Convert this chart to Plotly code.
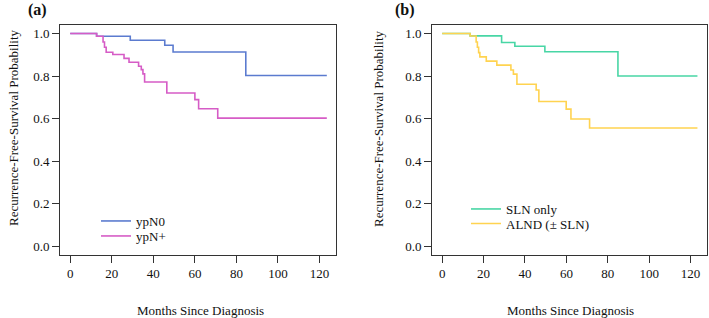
import plotly.graph_objects as go

# ---- data ----
ypN0_t = [0, 12.7, 28.9, 45.5, 49.5, 84.5, 123.5]
ypN0_s = [1.0, 0.987, 0.968, 0.945, 0.913, 0.802, 0.802]

ypNp_t = [0, 12.7, 15.8, 16.5, 17.3, 20.5, 25.9, 28.3, 32.9, 34.2, 35.0, 35.8, 46.5, 60.0, 61.8, 71.0, 123.5]
ypNp_s = [1.0, 0.987, 0.96, 0.935, 0.912, 0.901, 0.883, 0.865, 0.846, 0.83, 0.81, 0.772, 0.72, 0.689, 0.646, 0.602, 0.602]

sln_t = [0, 13.5, 28.7, 35.1, 49.6, 84.9, 123.3]
sln_s = [1.0, 0.989, 0.958, 0.94, 0.914, 0.8, 0.8]

alnd_t = [0, 13.5, 16.4, 17.0, 17.6, 18.2, 21.3, 26.4, 33.2, 34.4, 36.1, 45.4, 46.7, 59.9, 62.2, 71.2, 123.3]
alnd_s = [1.0, 0.988, 0.96, 0.935, 0.91, 0.89, 0.87, 0.851, 0.828, 0.809, 0.761, 0.734, 0.68, 0.644, 0.598, 0.555, 0.555]

x_ticks = [0, 20, 40, 60, 80, 100, 120]
y_ticks = [0.0, 0.2, 0.4, 0.6, 0.8, 1.0]
y_ticklabels = ["0.0", "0.2", "0.4", "0.6", "0.8", "1.0"]

x_title = "Months Since Diagnosis"
y_title = "Recurrence-Free-Survival Probability"

W, H = 709, 318
FONT = "Liberation Serif, Times New Roman, serif"
C_BLUE, C_PINK, C_GREEN, C_YELLOW = "#5B7BCF", "#D65CC6", "#48D6A5", "#FFD350"

fig = go.Figure()

def add(t, s, name, color, xa, ya, leg):
    fig.add_trace(go.Scatter(x=t, y=s, mode="lines", line=dict(shape="hv", color=color, width=1.6),
                             name=name, xaxis=xa, yaxis=ya, legend=leg, showlegend=True))

add(ypN0_t, ypN0_s, "ypN0", C_BLUE, "x", "y", "legend")
add(ypNp_t, ypNp_s, "ypN+", C_PINK, "x", "y", "legend2")
add(sln_t, sln_s, "SLN only", C_GREEN, "x2", "y2", "legend3")
add(alnd_t, alnd_s, "ALND (± SLN)", C_YELLOW, "x2", "y2", "legend4")

ytop = 1 - 25 / H
ybot = 1 - 254.5 / H

axis_common = dict(showline=True, mirror=True, linecolor="#333", linewidth=1, ticks="outside",
                   ticklen=7, tickcolor="#333", showgrid=False, zeroline=False,
                   tickfont=dict(family=FONT, size=13, color="#111"))

def leg(px, top):
    return dict(x=px / W, y=1 - top / H, xanchor="left", yanchor="top", bgcolor="rgba(0,0,0,0)",
                font=dict(family=FONT, size=13, color="#111"), itemwidth=30, visible=True)

fig.update_layout(
    width=W, height=H, margin=dict(l=0, r=0, t=0, b=0),
    plot_bgcolor="white", paper_bgcolor="white", showlegend=True,
    font=dict(family=FONT, size=13, color="#111"),
    xaxis=dict(domain=[60 / W, 336 / W], range=[-4.92, 127.92], tickvals=x_ticks, anchor="y", **axis_common),
    yaxis=dict(domain=[ybot, ytop], range=[-0.04, 1.04], tickvals=y_ticks, ticktext=y_ticklabels,
               anchor="x", **axis_common),
    xaxis2=dict(domain=[432 / W, 707 / W], range=[-4.92, 127.92], tickvals=x_ticks, anchor="y2", **axis_common),
    yaxis2=dict(domain=[ybot, ytop], range=[-0.04, 1.04], tickvals=y_ticks, ticktext=y_ticklabels,
                anchor="x2", **axis_common),
    legend=leg(96, 206),
    legend2=leg(96, 221),
    legend3=leg(466, 194),
    legend4=leg(466, 208.5),
    annotations=[
        dict(text="<b>(a)</b>", x=37 / W, y=1 - 10 / H, xref="paper", yref="paper", showarrow=False,
             font=dict(family=FONT, size=16, color="#111"), xanchor="center", yanchor="middle"),
        dict(text="<b>(b)</b>", x=405 / W, y=1 - 10 / H, xref="paper", yref="paper", showarrow=False,
             font=dict(family=FONT, size=16, color="#111"), xanchor="center", yanchor="middle"),
        dict(text=y_title, x=13 / W, y=1 - 128 / H, xref="paper", yref="paper", showarrow=False,
             textangle=-90, xanchor="center", yanchor="middle"),
        dict(text=y_title, x=378 / W, y=1 - 128 / H, xref="paper", yref="paper", showarrow=False,
             textangle=-90, xanchor="center", yanchor="middle"),
        dict(text=x_title, x=200 / W, y=1 - 310 / H, xref="paper", yref="paper", showarrow=False,
             xanchor="center", yanchor="middle"),
        dict(text=x_title, x=570 / W, y=1 - 310 / H, xref="paper", yref="paper", showarrow=False,
             xanchor="center", yanchor="middle"),
    ],
)

fig.write_html("out.html", config={"displayModeBar": False},
               post_script="document.body.style.margin='0';document.body.style.overflow='hidden';")
